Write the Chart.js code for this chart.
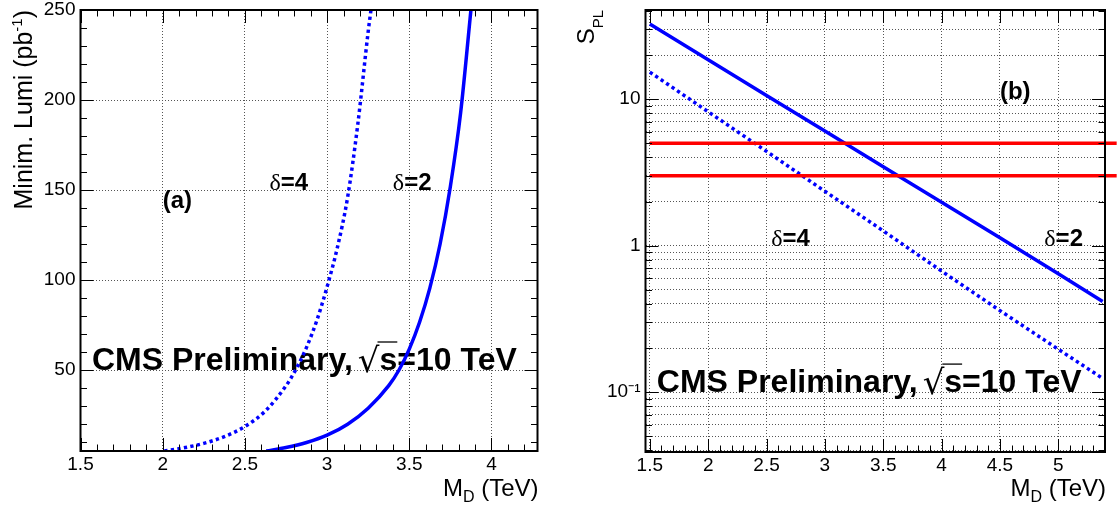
<!DOCTYPE html>
<html><head><meta charset="utf-8">
<script src="https://cdn.jsdelivr.net/npm/chart.js@4"></script>
<style>
html,body{margin:0;padding:0;background:#fff;width:1117px;height:508px;overflow:hidden}
#c1{position:absolute;left:0;top:0}
#c2{position:absolute;left:560px;top:0}
</style></head><body>
<canvas id="c1" width="560" height="508"></canvas>
<canvas id="c2" width="557" height="508"></canvas>
<script>
// ---------- data ----------
// (a) Minimum luminosity vs M_D
const lumiMD_d4 = [2.01, 2.125, 2.25, 2.375, 2.5, 2.625, 2.75, 2.81, 2.875, 2.9375, 3.0, 3.0625, 3.125, 3.1875, 3.25, 3.267];
const lumi_d4   = [5, 6.7, 9.25, 13.0, 18.6, 27.3, 41.2, 50.3, 62.6, 77.5, 96.2, 118, 146, 187, 238, 250];
const lumiMD_d2 = [2.63, 2.75, 2.875, 3.0, 3.125, 3.25, 3.375, 3.4375, 3.5, 3.5625, 3.625, 3.6875, 3.75, 3.8125, 3.875];
const lumi_d2   = [5, 6.9, 9.7, 13.8, 19.9, 28.8, 41.3, 50, 61.6, 76.5, 95.5, 120, 152, 193, 250];
// (b) S_PL vs M_D
const splMD    = [1.5, 2.0, 2.5, 3.0, 3.5, 4.0, 4.5, 5.0, 5.38];
const spl_d2   = [32.6, 18.6, 10.6, 6.07, 3.46, 1.98, 1.13, 0.643, 0.416];
const spl_d4   = [15.3, 8.2, 4.4, 2.35, 1.26, 0.67, 0.36, 0.196, 0.124];
const thresholdMD = [1.5, 5.5];
const thresholds  = [5, 3];
// tick labels
const leftXTicks  = [1.5, 2, 2.5, 3, 3.5, 4];
const leftYTicks  = [50, 100, 150, 200, 250];
const rightXTicks = [1.5, 2, 2.5, 3, 3.5, 4, 4.5, 5];
const rightYDecades = [0.1, 1, 10];
const rightYLabels  = ['10\u207B\u00B9', '1', '10'];

// ---------- helpers ----------
const FF = 'Liberation Sans';
const pts = (xs, ys) => xs.map((x, i) => ({x, y: ys[i]}));
function range(a, b, s){ const r=[]; for(let v=a; v<=b+1e-9; v+=s) r.push(Math.round(v*1000)/1000); return r; }
function runsWidth(ctx, runs){ let w=0; for(const r of runs){ ctx.font=r.font; w += ctx.measureText(r.t).width + (r.pre||0) + (r.post||0);} return w; }
function drawRuns(ctx, runs, x, y, align){
  const w = runsWidth(ctx, runs);
  let cx = align==='right' ? x-w : align==='center' ? x-w/2 : x;
  for(const r of runs){
    ctx.font = r.font; cx += (r.pre||0);
    ctx.fillText(r.t, cx, y + (r.dy||0));
    const rw = ctx.measureText(r.t).width;
    if(r.over){ ctx.save(); ctx.lineWidth=1.3; ctx.strokeStyle='#000'; ctx.beginPath(); ctx.moveTo(cx-2, y-r.over); ctx.lineTo(cx+rw, y-r.over); ctx.stroke(); ctx.restore(); }
    cx += rw + (r.post||0);
  }
}
const B32 = 'bold 32px '+FF;
const cmsRuns = [
  {t:'CMS Preliminary,', font:B32},
  {t:'\u221A', font:'34px DejaVu Sans', pre:5, post:0, dy:2},
  {t:'s', font:B32, over:28},
  {t:'=10 TeV', font:B32}
];
const dRuns = n => [{t:'\u03B4', font:'24px Liberation Serif'}, {t:'='+n, font:'bold 24px '+FF}];

function rootPlugin(cfg){
  return {
    id: 'root'+cfg.id,
    beforeDatasetsDraw(chart){
      const ctx=chart.ctx, xs=chart.scales.x, ys=chart.scales.y;
      ctx.save(); ctx.fillStyle='#000'; ctx.textBaseline='alphabetic';
      for(const L of cfg.labels){
        drawRuns(ctx, L.runs, xs.getPixelForValue(L.x), ys.getPixelForValue(L.y), 'left');
      }
      ctx.restore();
    },
    afterDatasetsDraw(chart){
      const ctx=chart.ctx, a=chart.chartArea, xs=chart.scales.x, ys=chart.scales.y;
      ctx.save();
      ctx.strokeStyle='#000'; ctx.lineWidth=1;
      const tick=(vals, len, isX)=>{
        ctx.beginPath();
        for(const v of vals){
          if(isX){ const p=Math.round(xs.getPixelForValue(v))+0.5;
            ctx.moveTo(p,a.bottom); ctx.lineTo(p,a.bottom-len); ctx.moveTo(p,a.top); ctx.lineTo(p,a.top+len);
          } else { const p=Math.round(ys.getPixelForValue(v))+0.5;
            ctx.moveTo(a.left,p); ctx.lineTo(a.left+len,p); ctx.moveTo(a.right,p); ctx.lineTo(a.right-len,p);
          }
        }
        ctx.stroke();
      };
      tick(cfg.xMajor, 13, true); tick(cfg.xMinor, 6.5, true);
      tick(cfg.yMajor, 13, false); tick(cfg.yMinor, 6.5, false);
      ctx.lineWidth=2;
      ctx.strokeRect(a.left, a.top, a.right-a.left, a.bottom-a.top);
      // axis titles
      ctx.fillStyle='#000'; ctx.textBaseline='alphabetic';
      drawRuns(ctx, cfg.xTitle, a.right+1, 496, 'right');
      ctx.translate(cfg.yTitleX, a.top);
      ctx.rotate(-Math.PI/2);
      drawRuns(ctx, cfg.yTitle, 0, 0, 'right');
      ctx.restore();
    }
  };
}
const xTitleRuns = [{t:'M', font:'24px '+FF}, {t:'D', font:'16px '+FF, dy:6}, {t:' (TeV)', font:'24px '+FF}];
const tickFont = {family: FF, size: 19, lineHeight: 1.2};
const gridOpt = {drawTicks:false, color:'#555', lineWidth:1};
const borderOpt = {display:false, dash:[1,2]};
const zeroPad = s => { s.paddingTop=0; s.paddingBottom=0; s.paddingLeft=0; s.paddingRight=0; };

// ---------- left chart (a) ----------
new Chart(document.getElementById('c1'), {
  type: 'line',
  data: { datasets: [
    {data: pts(lumiMD_d4, lumi_d4), borderColor:'#0000ff', borderWidth:3.5, borderDash:[3.3,3.3], pointRadius:0, cubicInterpolationMode:'monotone', fill:false},
    {data: pts(lumiMD_d2, lumi_d2), borderColor:'#0000ff', borderWidth:3.5, pointRadius:0, cubicInterpolationMode:'monotone', fill:false}
  ]},
  options: {
    responsive:false, animation:false, events:[],
    layout:{padding:{left:0, top:10, right:22.5, bottom:0}},
    plugins:{legend:{display:false}, tooltip:{enabled:false}},
    scales:{
      x:{type:'linear', min:1.5, max:4.28,
        afterBuildTicks: s => { s.ticks = leftXTicks.map(v=>({value:v})); },
        afterFit: s => { s.height = 57; zeroPad(s); },
        grid:gridOpt, border:borderOpt,
        ticks:{autoSkip:false, maxRotation:0, padding:2, color:'#000', font:tickFont, callback: v => String(v)}},
      y:{type:'linear', min:5, max:250,
        afterBuildTicks: s => { s.ticks = leftYTicks.map(v=>({value:v})); },
        afterFit: s => { s.width = 80.5; zeroPad(s); },
        grid:gridOpt, border:borderOpt,
        ticks:{autoSkip:false, padding:5, color:'#000', font:{family:FF, size:19, lineHeight:1}, callback: v => String(v)}}
    }
  },
  plugins:[rootPlugin({
    id:'a',
    xMajor: range(1.5, 4.0, 0.5), xMinor: range(1.6, 4.2, 0.1),
    yMajor: range(50, 200, 50), yMinor: range(10, 240, 10).filter(v => v % 50 !== 0),
    xTitle: xTitleRuns,
    yTitle: [{t:'Minim. Lumi (pb', font:'25px '+FF}, {t:'-1', font:'15px '+FF, dy:-10}, {t:')', font:'25px '+FF}],
    yTitleX: 31.5,
    labels: [
      {x:2.0, y:140, runs:[{t:'(a)', font:'bold 24px '+FF}]},
      {x:2.65, y:150, runs:dRuns(4)},
      {x:3.40, y:150, runs:dRuns(2)},
      {x:1.57, y:50, runs:cmsRuns}
    ]
  })]
});

// ---------- right chart (b) ----------
const logGrid = [];
[0.01, 0.1, 1, 10].forEach(d => { for(let k=1;k<=9;k++){ const v=Math.round(k*d*1000)/1000; if(v>=0.04 && v<=40.6) logGrid.push(v);} });
new Chart(document.getElementById('c2'), {
  type: 'line',
  data: { datasets: [
    {data: pts(thresholdMD, [thresholds[0], thresholds[0]]), borderColor:'#ff0000', borderWidth:3.5, pointRadius:0, clip:false},
    {data: pts(thresholdMD, [thresholds[1], thresholds[1]]), borderColor:'#ff0000', borderWidth:3.5, pointRadius:0, clip:false},
    {data: pts(splMD, spl_d4), borderColor:'#0000ff', borderWidth:3.5, borderDash:[3.3,3.3], pointRadius:0, tension:0},
    {data: pts(splMD, spl_d2), borderColor:'#0000ff', borderWidth:3.5, pointRadius:0, tension:0}
  ]},
  options: {
    responsive:false, animation:false, events:[],
    layout:{padding:{left:0, top:10, right:12, bottom:0}},
    plugins:{legend:{display:false}, tooltip:{enabled:false}},
    scales:{
      x:{type:'linear', min:1.463, max:5.40,
        afterBuildTicks: s => { s.ticks = rightXTicks.map(v=>({value:v})); },
        afterFit: s => { s.height = 56; zeroPad(s); },
        grid:gridOpt, border:borderOpt,
        ticks:{autoSkip:false, maxRotation:0, padding:2, color:'#000', font:tickFont, callback: v => String(v)}},
      y:{type:'logarithmic', min:0.039, max:40.6,
        afterBuildTicks: s => { s.ticks = logGrid.map(v=>({value:v})); },
        afterFit: s => { s.width = 85.5; zeroPad(s); },
        grid:gridOpt, border:borderOpt,
        ticks:{autoSkip:false, padding:5, color:'#000', font:{family:FF, size:19, lineHeight:1},
          callback: v => { const i = rightYDecades.indexOf(v); return i>=0 ? rightYLabels[i] : ''; }}}
    }
  },
  plugins:[rootPlugin({
    id:'b',
    xMajor: range(1.5, 5.0, 0.5), xMinor: range(1.5, 5.4, 0.1),
    yMajor: rightYDecades, yMinor: logGrid.filter(v => rightYDecades.indexOf(v) < 0),
    xTitle: xTitleRuns,
    yTitle: [{t:'S', font:'24px '+FF}, {t:'PL', font:'15px '+FF, dy:9.5}],
    yTitleX: 33.5,
    labels: [
      {x:4.5, y:10, runs:[{t:'(b)', font:'bold 24px '+FF}]},
      {x:2.54, y:1, runs:dRuns(4)},
      {x:4.88, y:1, runs:dRuns(2)},
      {x:1.56, y:0.1, runs:cmsRuns}
    ]
  })]
});
</script>
</body></html>
